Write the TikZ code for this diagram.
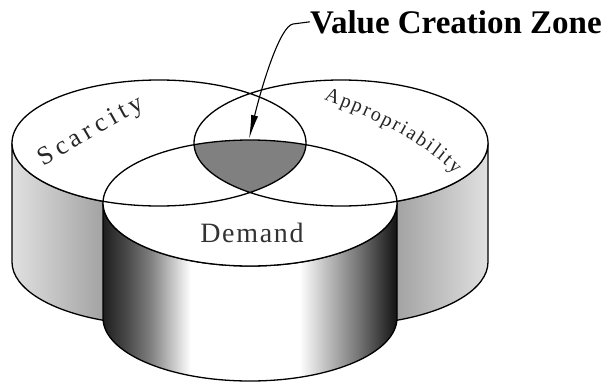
\documentclass[tikz,border=0pt]{standalone}
\usepackage{fontspec}
\setmainfont{Liberation Serif}
\newfontfamily\demfont[LetterSpace=6]{Liberation Serif}
\usetikzlibrary{arrows.meta,decorations.text}
\pgfdeclarehorizontalshading{dshade}{100bp}{color(0bp)=(black!88); color(25bp)=(black!88); color(28.9bp)=(black!72); color(33.1bp)=(black!50); color(39.9bp)=(white); color(58.4bp)=(white); color(63.5bp)=(black!28); color(68.6bp)=(black!55); color(74.5bp)=(black!90); color(100bp)=(black!90)}
\begin{document}
\begin{tikzpicture}[x=1pt,y=-1pt,line join=round,
  ell/.style={x radius=147, y radius=63},
  edge/.style={draw=black, line width=1.3pt},
  sideL/.style={edge, left color=black!12, right color=black!38},
  sideR/.style={edge, left color=black!38, right color=black!12},
  sideD/.style={edge, shading=dshade},
  zone/.style={fill=black!50},
  leader/.style={line width=1.1pt, -{Latex[length=24pt,width=7pt]}},
  lbl/.style={decorate, decoration={text along path, text align=fit to path, text color=black!85}}]
\useasboundingbox (0,0) rectangle (613,383);
\clip (0,0) rectangle (613,383);
% centres
\coordinate (S) at (159,143);
\coordinate (A) at (341,143);
\coordinate (D) at (250,203);
% side of Scarcity cylinder
\path[sideL] (12,143) -- (12,262) arc[ell, start angle=180, end angle=109.47] -- ++(0,-119) arc[ell, start angle=109.47, end angle=180] -- cycle;
% side of Appropriability cylinder
\path[sideR] (488,143) -- (488,262) arc[ell, start angle=0, end angle=70.53] -- ++(0,-119) arc[ell, start angle=70.53, end angle=0] -- cycle;
% side of Demand cylinder
\path[sideD] (103,203) -- (103,318) arc[ell, start angle=180, end angle=0] -- (397,203) arc[ell, start angle=0, end angle=180] -- cycle;
% top faces
\fill[white] (S) ellipse[ell] (A) ellipse[ell] (D) ellipse[ell];
\begin{scope}
  \clip (S) ellipse[ell];
  \clip (A) ellipse[ell];
  \fill[zone] (D) ellipse[ell];
\end{scope}
\draw[edge] (S) ellipse[ell] (A) ellipse[ell] (D) ellipse[ell];
% labels
\path[lbl, decoration={text={|\fontsize{26}{29}\selectfont|Scarcity}, raise=-7pt}] (40,160) .. controls (72,142) and (105,121) .. (142,102);
\path[lbl, decoration={text={|\fontsize{20}{23}\selectfont|Appropriability}, raise=-6pt}] (326,94) .. controls (370,110) and (425,135) .. (459,170);
\node[font=\demfont\fontsize{28}{32}\selectfont, text=black!80] (dem) at (252,233) {Demand};
% value creation zone
\node[anchor=base west, inner sep=0pt, font=\fontsize{33}{37}\bfseries\selectfont] (title) at (310,33) {Value Creation Zone};
\coordinate (vcz) at (249,139);
\coordinate (bend) at (293,24);
\draw[leader] (title.west) -- (bend) .. controls (280,26) and (262,85) .. (vcz);
\end{tikzpicture}
\end{document}
